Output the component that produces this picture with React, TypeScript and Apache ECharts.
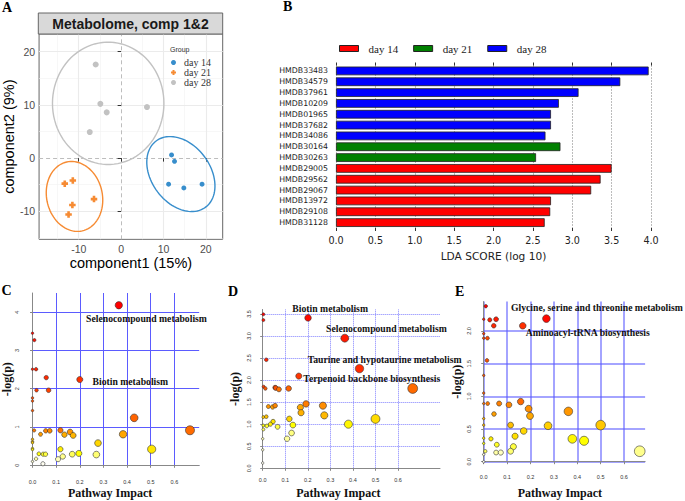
import React, { useEffect, useRef } from 'react';
import * as echarts from 'echarts';

// ---------- Panel A: PCA scores ----------
const pcaGroups = ['day 14', 'day 21', 'day 28'];
const pcaDay14 = [[11.9, 0.6], [12.6, -0.6], [11.2, -4.9], [14.8, -5.6], [19.1, -4.9]];
const pcaDay21 = [[-13.3, -4.8], [-11.4, -4.2], [-11.5, -8.8], [-12.4, -10.6], [-6.4, -7.7]];
const pcaDay28 = [[-6.0, 17.6], [-4.9, 10.2], [-3.4, 8.6], [6.1, 9.6], [-7.4, 4.9]];
// [centerX, centerY, semiAxisA, semiAxisB, angleDeg]
const pcaEllipses = [
  [14.1, -3.0, 8.76, 6.14, -33.7],
  [-11.0, -7.2, 6.96, 6.26, -41],
  [-3.05, 10.3, 13.15, 11.5, 0],
];
const pcaMajorTicks = [-10, 0, 10, 20];
const pcaMinorTicks = [-15, -5, 5, 15];

// ---------- Panel B: LDA scores ----------
const ldaNames = ['HMDB33483', 'HMDB34579', 'HMDB37961', 'HMDB10209', 'HMDB01965', 'HMDB37682', 'HMDB34086',
  'HMDB30164', 'HMDB30263', 'HMDB29005', 'HMDB29562', 'HMDB29067', 'HMDB13972', 'HMDB29108', 'HMDB31128'];
const ldaScores = [3.97, 3.61, 3.08, 2.83, 2.73, 2.73, 2.66, 2.85, 2.54, 3.50, 3.36, 3.24, 2.73, 2.72, 2.65];
const ldaGroup = ['day 28', 'day 28', 'day 28', 'day 28', 'day 28', 'day 28', 'day 28',
  'day 21', 'day 21', 'day 14', 'day 14', 'day 14', 'day 14', 'day 14', 'day 14'];
const ldaLegend = ['day 14', 'day 21', 'day 28'];

// ---------- Panels C, D, E: pathway impact [impact, -log(p)] ----------
const pathC = [[0.365, 4.18], [0.0, 3.45], [0.008, 3.27], [0.0, 2.51], [0.015, 2.51], [0.058, 2.29], [0.20, 2.24],
  [0.017, 1.96], [0.068, 1.96], [0.0, 1.76], [0.0, 1.68], [0.0, 1.43], [0.43, 1.24], [0.666, 0.915], [0.007, 0.91],
  [0.056, 0.90], [0.073, 0.90], [0.118, 0.915], [0.135, 0.80], [0.159, 0.87], [0.172, 0.78], [0.034, 0.81],
  [0.383, 0.81], [0.0, 0.68], [0.0, 0.62], [0.0, 0.59], [0.0, 0.44], [0.0, 0.41], [0.277, 0.58], [0.504, 0.42],
  [0.118, 0.42], [0.027, 0.30], [0.045, 0.29], [0.055, 0.29], [0.168, 0.29], [0.196, 0.31], [0.27, 0.28],
  [0.128, 0.23], [0.108, 0.16], [0.015, 0.17], [0.0, 0.10], [0.044, 0.04]];
const pathCNames: Record<number, string> = { 0: 'Selenocompound metabolism', 6: 'Biotin metabolism' };

const pathD = [[0.003, 3.49], [0.003, 3.36], [0.201, 3.41], [0.364, 2.95], [0.016, 2.46], [0.429, 2.26], [0.16, 2.09],
  [0.004, 1.85], [0.012, 1.81], [0.055, 1.83], [0.058, 1.82], [0.072, 1.79], [0.115, 1.81], [0.665, 1.81],
  [0.025, 1.40], [0.044, 1.39], [0.055, 1.42], [0.192, 1.46], [0.167, 1.38], [0.17, 1.26], [0.267, 1.42],
  [0.273, 1.20], [0.003, 1.16], [0.016, 1.17], [0.118, 1.12], [0.5, 1.12], [0.046, 1.06], [0.034, 1.0],
  [0.003, 0.97], [0.018, 0.96], [0.066, 0.94], [0.134, 0.98], [0.38, 1.0], [0.003, 0.88], [0.128, 0.80],
  [0.108, 0.67], [0.0, 0.67], [0.0, 0.42], [0.0, 0.12]];
const pathDNames: Record<number, string> = {
  2: 'Biotin metabolism', 3: 'Selenocompound metabolism',
  5: 'Taurine and hypotaurine metabolism', 13: 'Terpenoid backbone biosynthesis',
};

const pathE = [[0.009, 2.38], [0.0, 2.18], [0.026, 2.17], [0.053, 2.18], [0.043, 2.08], [0.167, 2.08], [0.268, 2.19],
  [0.0, 1.96], [0.0, 1.89], [0.016, 1.89], [0.014, 1.55], [0.0, 1.32], [0.0, 1.05], [0.0, 0.89], [0.017, 0.89],
  [0.066, 0.89], [0.108, 0.87], [0.158, 0.92], [0.192, 0.81], [0.198, 0.70], [0.362, 0.77], [0.044, 0.73],
  [0.0, 0.66], [0.0, 0.56], [0.115, 0.56], [0.275, 0.55], [0.5, 0.56], [0.171, 0.47], [0.134, 0.39],
  [0.031, 0.35], [0.379, 0.35], [0.429, 0.32], [0.0, 0.36], [0.0, 0.28], [0.056, 0.26], [0.127, 0.23],
  [0.007, 0.16], [0.053, 0.14], [0.073, 0.14], [0.115, 0.16], [0.667, 0.16], [0.0, 0.11], [0.0, 0.0]];
const pathENames: Record<number, string> = { 6: 'Glycine, serine and threonine metabolism', 5: 'Aminoacyl-tRNA biosynthesis' };

const impactTicks = [0, 0.1, 0.2, 0.3, 0.4, 0.5, 0.6];
const logpTicksC = [0, 1, 2, 3, 4];
const logpTicksD = [0, 0.5, 1, 1.5, 2, 2.5, 3, 3.5];
const logpTicksE = [0, 0.5, 1, 1.5, 2];

// ---------- styles ----------
const groupColors = ['#388ECC', '#F68B33', '#C2C2C2'];
const ldaColors: Record<string, string> = { 'day 14': '#FF0000', 'day 21': '#008000', 'day 28': '#0000FF' };
const plusPath = 'path://M3,0H7V3H10V7H7V10H3V7H0V3H3Z';
const serifBold = { fontFamily: 'Liberation Serif', fontWeight: 'bold' as const };

// label offsets (px) relative to point centre
const labelOffsets: Record<string, number[]> = {
  'C-Selenocompound metabolism': [-32.7, 13.3],
  'C-Biotin metabolism': [12.7, 2],
  'D-Biotin metabolism': [-15.7, -9.6],
  'D-Selenocompound metabolism': [-18.8, -9.5],
  'D-Taurine and hypotaurine metabolism': [-51.8, -9.6],
  'D-Terpenoid backbone biosynthesis': [-109.4, -9.5],
  'E-Glycine, serine and threonine metabolism': [-35.4, -11.3],
  'E-Aminoacyl-tRNA biosynthesis': [2.9, 6.9],
};

function heatColors(pts: number[][]): string[] {
  const n = pts.length;
  const order = pts.map((_, i) => i).sort((a, b) => pts[b][1] - pts[a][1]);
  const j = Math.floor(n / 4);
  const i = n - j;
  const out: string[] = new Array(n);
  const hex = (v: number) => Math.round(Math.max(0, Math.min(1, v)) * 255).toString(16).padStart(2, '0');
  order.forEach((idx, k) => {
    let h: number, s: number;
    if (k < i) {
      h = i > 1 ? (k / (i - 1)) * (1 / 6) : 0;
      s = 1;
    } else {
      const m = k - i;
      h = 1 / 6;
      const s0 = 1 - 1 / (2 * j), s1 = 1 / (2 * j);
      s = j > 1 ? s0 + (s1 - s0) * (m / (j - 1)) : 0.5;
    }
    const r = 1, g = 1 - s + s * h * 6, b = 1 - s;
    out[idx] = '#' + hex(r) + hex(g) + hex(b);
  });
  return out;
}

function gridLineSeries(xi: number, yi: number, xs: number[], ys: number[], lineStyle: any) {
  return {
    type: 'scatter', xAxisIndex: xi, yAxisIndex: yi, data: [], silent: true, z: 0,
    markLine: {
      silent: true, symbol: 'none', animation: false, label: { show: false }, z: 0,
      emphasis: { disabled: true },
      lineStyle,
      data: [...xs.map((v) => ({ xAxis: v })), ...ys.map((v) => ({ yAxis: v }))],
    },
  };
}

function pathwaySeries(panel: string, pts: number[][], names: Record<number, string>, xi: number, yi: number, k: number) {
  const cols = heatColors(pts);
  return {
    type: 'scatter', xAxisIndex: xi, yAxisIndex: yi, z: 6, clip: false, silent: true,
    symbolSize: (v: number[]) => 2.5 + k * Math.sqrt(v[0]),
    itemStyle: { borderColor: '#333', borderWidth: 0.6, opacity: 1 },
    data: pts.map((p, i) => {
      const item: any = { value: p, itemStyle: { color: cols[i] } };
      if (names[i]) {
        item.label = {
          show: true, position: 'inside', align: 'left', verticalAlign: 'middle',
          offset: labelOffsets[panel + '-' + names[i]], formatter: names[i],
          ...serifBold, fontSize: 9.7, color: '#111', textBorderWidth: 0,
        };
      }
      return item;
    }),
  };
}

function impactAxis(gi: number, max: number, offset: number, margin: number, gap: number, shift: number) {
  return {
    gridIndex: gi, type: 'value', min: 0, max, offset,
    axisLine: { show: true, lineStyle: { color: '#888', width: 1 } },
    axisTick: { show: true, customValues: impactTicks, length: 2.5, lineStyle: { color: '#888' } },
    axisLabel: { customValues: impactTicks, formatter: (v: number) => v.toFixed(1), fontSize: 5.5, color: '#333', margin },
    splitLine: { show: false },
    name: 'Pathway Impact', nameLocation: 'middle', nameGap: gap,
    nameTextStyle: { ...serifBold, fontSize: 12, color: '#111', padding: [0, shift, 0, 0] },
  };
}

function logpAxis(gi: number, max: number, ticks: number[], offset: number, margin: number, gap: number, dec: number) {
  return {
    gridIndex: gi, type: 'value', min: 0, max, offset,
    axisLine: { show: true, lineStyle: { color: '#888', width: 1 } },
    axisTick: { show: true, customValues: ticks, length: 2.5, lineStyle: { color: '#888' } },
    axisLabel: { customValues: ticks, formatter: (v: number) => v.toFixed(dec), fontSize: 5.5, color: '#333', margin, rotate: 90 },
    splitLine: { show: false },
    name: '-log(p)', nameLocation: 'middle', nameGap: gap, nameRotate: 90,
    nameTextStyle: { ...serifBold, fontSize: 12, color: '#111' },
  };
}

export default function App() {
  const ref = useRef<HTMLDivElement>(null);
  useEffect(() => {
    if (!ref.current) return;
    const chart = echarts.init(ref.current, undefined, { renderer: 'svg' });

    const letter = { ...serifBold, fontSize: 14, color: '#000' };
    const pcaSets = [pcaDay14, pcaDay21, pcaDay28];
    const pcaSymbols = ['circle', plusPath, 'circle'];
    const pcaSizes = [5, 6.5, 6];

    const option: any = {
      animation: false,
      backgroundColor: '#fff',
      textStyle: { fontFamily: 'Liberation Sans' },
      title: [
        { text: 'A', left: 2, top: 0, padding: 0, textStyle: letter },
        { text: 'B', left: 283, top: -1, padding: 0, textStyle: letter },
        { text: 'C', left: 1.5, top: 283, padding: 0, textStyle: letter },
        { text: 'D', left: 228, top: 284.5, padding: 0, textStyle: letter },
        { text: 'E', left: 455, top: 284, padding: 0, textStyle: letter },
      ],
      legend: [
        {
          orient: 'vertical', left: 171, top: 57.5, padding: 0, itemWidth: 5, itemHeight: 5, itemGap: 0,
          selectedMode: false,
          textStyle: { fontFamily: 'Liberation Serif', fontSize: 10, color: '#333', lineHeight: 10, padding: [0, 0, 0, 3] },
          data: pcaGroups.map((g, i) => ({ name: g, icon: pcaSymbols[i], itemStyle: { color: groupColors[i], borderWidth: 0 } })),
        },
        {
          orient: 'horizontal', left: 339, top: 43, padding: 0, itemWidth: 19, itemHeight: 6, itemGap: 15,
          selectedMode: false,
          textStyle: { fontFamily: 'Liberation Serif', fontSize: 11, color: '#222', padding: [0, 0, 0, 5] },
          data: ldaLegend.map((g) => ({ name: g, icon: 'rect', itemStyle: { color: ldaColors[g], borderColor: '#222', borderWidth: 1 } })),
        },
      ],
      grid: [
        { left: 38.3, top: 34, width: 184.4, height: 205.3, show: true, borderColor: '#666', borderWidth: 1, backgroundColor: '#fff', containLabel: false },
        { left: 336, top: 65.5, width: 315, height: 162.5, containLabel: false },
        { left: 32.3, top: 293, width: 166.9, height: 172.3, containLabel: false },
        { left: 262.7, top: 309.5, width: 177.3, height: 158.8, containLabel: false },
        { left: 483.7, top: 301.6, width: 161.4, height: 160.1, containLabel: false },
      ],
      xAxis: [
        {
          gridIndex: 0, type: 'value', min: -19.36, max: 23.97,
          axisLine: { show: false }, splitLine: { show: false },
          axisTick: { show: true, customValues: pcaMajorTicks, length: 3.5, lineStyle: { color: '#333' } },
          axisLabel: { customValues: pcaMajorTicks, fontSize: 10.5, color: '#4D4D4D', margin: 4 },
          name: 'component1 (15%)', nameLocation: 'middle', nameGap: 16.5,
          nameTextStyle: { fontSize: 14.5, color: '#000' },
        },
        {
          gridIndex: 1, type: 'value', min: 0, max: 4, interval: 0.5,
          axisLine: { show: false },
          axisTick: { show: true, length: 3, lineStyle: { color: '#333' } },
          axisLabel: { fontFamily: 'DejaVu Sans', fontSize: 9.6, color: '#222', margin: 7.5, formatter: (v: number) => v.toFixed(1) },
          splitLine: { show: true, lineStyle: { color: '#555', type: [1, 2], width: 0.8 } },
          name: 'LDA SCORE (log 10)', nameLocation: 'middle', nameGap: 22,
          nameTextStyle: { fontFamily: 'DejaVu Sans', fontSize: 10.6, color: '#222' },
        },
        {
          gridIndex: 1, type: 'value', min: 0, max: 4, interval: 0.5, position: 'top',
          axisLine: { show: false }, axisLabel: { show: false }, splitLine: { show: false },
          axisTick: { show: true, length: 3, lineStyle: { color: '#333' } },
        },
        impactAxis(2, 0.705, 5.4, 8, 16, 11.6),
        impactAxis(3, 0.786, 5.7, 3, 13, 26),
        impactAxis(4, 0.69, 5, 7, 20, 9),
      ],
      yAxis: [
        {
          gridIndex: 0, type: 'value', min: -15.26, max: 23.33,
          axisLine: { show: false }, splitLine: { show: false },
          axisTick: { show: true, customValues: pcaMajorTicks, length: 3.5, lineStyle: { color: '#333' } },
          axisLabel: { customValues: pcaMajorTicks, fontSize: 10.5, color: '#4D4D4D', margin: 4 },
          name: 'component2 (9%)', nameLocation: 'middle', nameGap: 19,
          nameTextStyle: { fontSize: 14.5, color: '#000' },
        },
        {
          gridIndex: 1, type: 'category', data: ldaNames, inverse: true,
          axisLine: { show: false }, axisTick: { show: false }, splitLine: { show: false },
          axisLabel: { fontFamily: 'DejaVu Sans', fontSize: 7.8, color: '#222', margin: 8 },
        },
        logpAxis(2, 4.5, logpTicksC, 5.6, 7, 13.7, 0),
        logpAxis(3, 3.6, logpTicksD, 5.4, 5, 16, 1),
        logpAxis(4, 2.45, logpTicksE, 7, 5, 13.7, 1),
      ],
      graphic: [
        {
          type: 'rect', shape: { x: 38.3, y: 13, width: 184.4, height: 21 },
          style: { fill: '#D9D9D9', stroke: '#666', lineWidth: 1 }, z: 10, silent: true,
        },
        {
          type: 'text', x: 130.5, y: 23.5, z: 11, silent: true,
          style: {
            text: 'Metabolome, comp 1&2', font: 'bold 14px "Liberation Sans"', fill: '#1A1A1A',
            align: 'center', verticalAlign: 'middle', textAlign: 'center', textVerticalAlign: 'middle',
          },
        },
        {
          type: 'text', x: 170, y: 49, z: 11, silent: true,
          style: {
            text: 'Group', font: '7px "Liberation Sans"', fill: '#333',
            verticalAlign: 'middle', textVerticalAlign: 'middle',
          },
        },
      ],
      series: [
        // Panel A grid
        gridLineSeries(0, 0, pcaMinorTicks, pcaMinorTicks, { color: '#F2F2F2', width: 0.6, type: 'solid' }),
        gridLineSeries(0, 0, pcaMajorTicks.filter((v) => v !== 0), pcaMajorTicks.filter((v) => v !== 0), { color: '#EBEBEB', width: 1.1, type: 'solid' }),
        gridLineSeries(0, 0, [0], [0], { color: '#BDBDBD', width: 1, type: [4, 3] }),
        {
          type: 'custom', coordinateSystem: 'cartesian2d', xAxisIndex: 0, yAxisIndex: 0, z: 4, silent: true,
          data: pcaEllipses, encode: { x: 0, y: 1 },
          renderItem: (params: any, api: any) => {
            const cx = api.value(0), cy = api.value(1), a = api.value(2), b = api.value(3);
            const ang = (api.value(4) * Math.PI) / 180;
            const pts: number[][] = [];
            for (let k = 0; k <= 90; k++) {
              const t = (k / 90) * 2 * Math.PI;
              const x = cx + a * Math.cos(t) * Math.cos(ang) - b * Math.sin(t) * Math.sin(ang);
              const y = cy + a * Math.cos(t) * Math.sin(ang) + b * Math.sin(t) * Math.cos(ang);
              pts.push(api.coord([x, y]));
            }
            return { type: 'polyline', shape: { points: pts }, style: { stroke: groupColors[params.dataIndex], fill: 'none', lineWidth: 1.4 } };
          },
        },
        ...pcaSets.map((set, i) => ({
          type: 'scatter', name: pcaGroups[i], xAxisIndex: 0, yAxisIndex: 0, z: 6, silent: true,
          symbol: pcaSymbols[i], symbolSize: pcaSizes[i],
          itemStyle: { color: groupColors[i], opacity: 1 },
          data: set,
        })),
        // Panel B bars
        ...ldaLegend.map((g) => ({
          type: 'bar', name: g, xAxisIndex: 1, yAxisIndex: 1, barWidth: 8.7, barGap: '-100%', z: 3, silent: true,
          itemStyle: { color: ldaColors[g], borderColor: '#222', borderWidth: 0.8 },
          data: ldaScores.map((v, i) => (ldaGroup[i] === g ? v : '-')),
        })),
        // Panel C
        gridLineSeries(3, 2, impactTicks, logpTicksC, { color: '#5B5BFF', width: 1, type: 'solid' }),
        pathwaySeries('C', pathC, pathCNames, 3, 2, 8),
        // Panel D
        gridLineSeries(4, 3, impactTicks, logpTicksD, { color: '#7F7FFF', width: 1, type: 'dotted' }),
        pathwaySeries('D', pathD, pathDNames, 4, 3, 9),
        // Panel E
        gridLineSeries(5, 4, impactTicks, logpTicksE, { color: 'rgba(90,90,255,0.55)', width: 2, type: 'solid' }),
        pathwaySeries('E', pathE, pathENames, 5, 4, 10),
      ],
    };
    chart.setOption(option);
    return () => chart.dispose();
  }, []);
  return (
    <div
      ref={ref}
      style={{ position: 'absolute', left: 0, top: 0, width: 685, height: 501, background: '#fff' }}
    />
  );
}
